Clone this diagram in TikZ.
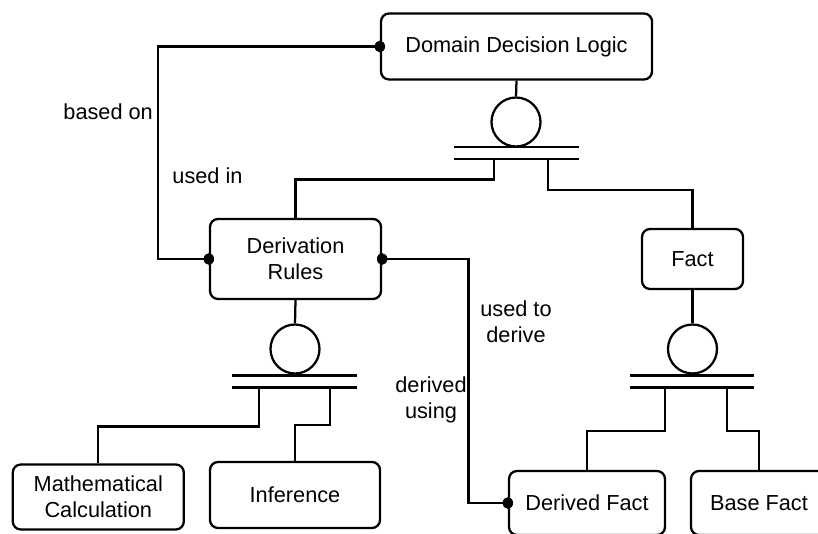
\documentclass[tikz,border=0pt]{standalone}
\usepackage{fontspec}
\setmainfont{Liberation Sans}
\begin{document}
\begin{tikzpicture}[x=0.75pt,y=-0.75pt,
  line width=1.7pt,
  txt/.style={font=\fontsize{16.3pt}{19.5pt}\selectfont},
  box/.style={draw, rounded corners=6pt, align=center, inner sep=0pt, txt},
  wh/.style 2 args={minimum width=#1*0.75pt, minimum height=#2*0.75pt},
  hub/.style={draw, circle, inner sep=0pt, minimum size=49*0.75pt},
  lbl/.style={align=center, inner sep=0pt, txt},
  enddot/.style={x radius=3.9pt, y radius=4.4pt}
]
\useasboundingbox (0,0) rectangle (818,534);
\fill[white] (0,0) rectangle (818,534);
\clip (0,0) rectangle (818,534);

% entity boxes
\node[box, wh={271}{66}] (ddl)   at (516.5,46.5) {Domain Decision Logic};
\node[box, wh={171}{80}] (der)   at (295.5,259)  {Derivation\\Rules};
\node[box, wh={101}{60}] (fact)  at (692.5,259)  {Fact};
\node[box, wh={171}{65}] (math)  at (98.3,497)   {Mathematical\\Calculation};
\node[box, wh={170}{66}] (inf)   at (295,495)    {Inference};
\node[box, wh={156}{64}] (dfact) at (587,503)    {Derived Fact};
\node[box, wh={136}{64}] (bfact) at (759,503)    {Base Fact};

% generalisation hubs: circle above a double bar
\node[hub] (h1) at (516,122) {};
\node[hub] (h2) at (295,349) {};
\node[hub] (h3) at (692.5,349) {};

\draw (ddl.south) -- (h1.north);
\draw (der.south) -- (h2.north);
\draw (fact.south) -- (h3.north);

\draw (454,147) -- (579,147) (454,159) -- (579,159);
\draw (232,375.5) -- (357,375.5) (232,387.5) -- (357,387.5);
\draw (630,375.5) -- (754,375.5) (630,387.5) -- (754,387.5);

% branch points on the lower bars
\coordinate (h1-l) at (494,159);
\coordinate (h1-r) at (548,159);
\coordinate (h2-l) at (259,387.5);
\coordinate (h2-r) at (330,387.5);
\coordinate (h3-l) at (665,387.5);
\coordinate (h3-r) at (727,387.5);

\draw (h1-l) -- ++(0,20.5) -| (der.north);
\draw (h1-r) -- ++(0,31) -| (fact.north);
\draw (h2-l) -- ++(0,39) -| (math.north);
\draw (h2-r) -- ++(0,37.5) -| (inf.north);
\draw (h3-l) -- ++(0,43.5) -| (dfact.north);
\draw (h3-r) -- ++(0,43.5) -| (bfact.north);

% associations
\coordinate (bend1) at (158,46.5);
\coordinate (bend2) at (468.5,259);
\draw (ddl.west) -- (bend1) |- (der.west);
\draw (der.east) -- (bend2) |- (dfact.west);
\fill (ddl.west) ellipse[enddot];
\fill (der.west) ellipse[enddot];
\fill (der.east) ellipse[enddot];
\fill (dfact.west) ellipse[enddot];

% role labels
\node[lbl, anchor=east] (lbased) at (154,112) {based on};
\node[lbl] (lused) at (207.5,176) {used in};
\node[lbl] (lderive) at (516,322) {used to\\derive};
\node[lbl] (lusing) at (431,400) {derived\\using};
\end{tikzpicture}
\end{document}
